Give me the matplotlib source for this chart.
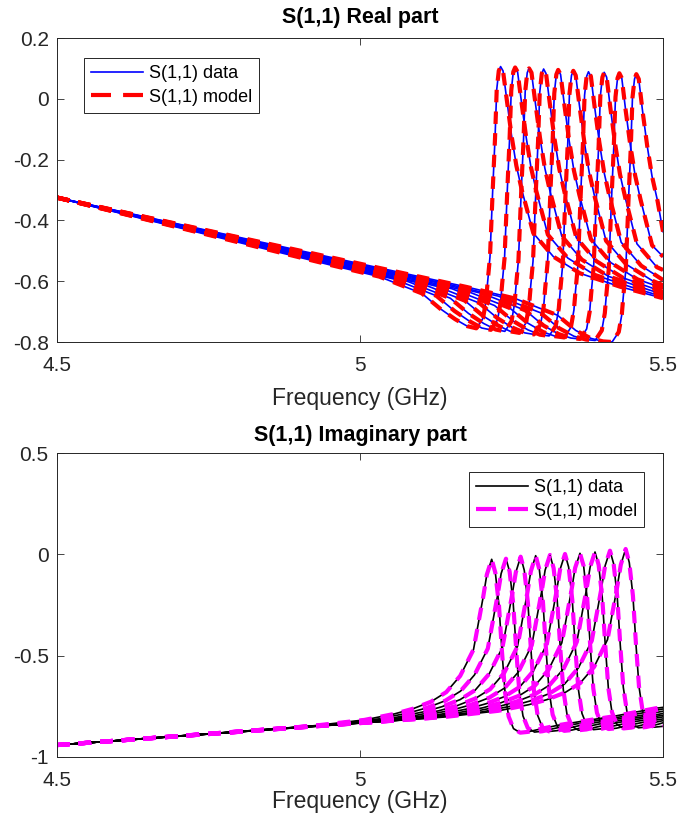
import numpy as np
import matplotlib
matplotlib.use("Agg")
import matplotlib.pyplot as plt
from matplotlib.lines import Line2D

plt.rcParams["font.family"] = ["Liberation Sans", "DejaVu Sans"]
plt.rcParams["axes.unicode_minus"] = False

F_START = 4.5
F_END = 5.5

# ── S(1,1) real part: 10 resonance traces ─────────────────────────────────────
RE_PEAK_FREQ = [5.232, 5.256, 5.279, 5.303, 5.327, 5.352, 5.377, 5.403, 5.428, 5.456]
RE_OFFSETS = [-0.28, -0.20, -0.13, -0.10, -0.075, -0.055, -0.040, -0.029, -0.024,
              -0.0215, -0.0175, -0.013, -0.0092, -0.0064, -0.003, 0.0, 0.004,
              0.010, 0.018, 0.026, 0.035, 0.054, 0.087, 0.131, 0.197, 0.27]
RE_START = [-0.325] * 10
RE_END = [-0.656, -0.651, -0.643, -0.635, -0.623, -0.613, -0.596, -0.563, -0.519, -0.437]
RE_VALUES = [
    [-0.547, -0.585, -0.640, -0.690, -0.725, -0.748, -0.755, -0.722, -0.665, -0.605, -0.520, -0.300, -0.130,
     0.030, 0.092, 0.106, 0.092, 0.000, -0.120, -0.220, -0.300, -0.442, -0.519, -0.574, -0.618, -0.655],
    [-0.555, -0.593, -0.648, -0.698, -0.732, -0.754, -0.760, -0.727, -0.670, -0.610, -0.525, -0.304, -0.134,
     0.027, 0.089, 0.103, 0.089, -0.004, -0.124, -0.224, -0.304, -0.447, -0.524, -0.579, -0.623, -0.660],
    [-0.563, -0.601, -0.656, -0.706, -0.739, -0.759, -0.765, -0.732, -0.675, -0.615, -0.530, -0.308, -0.137,
     0.024, 0.086, 0.100, 0.086, -0.008, -0.128, -0.228, -0.308, -0.452, -0.529, -0.584, -0.628, -0.665],
    [-0.571, -0.609, -0.664, -0.714, -0.746, -0.765, -0.770, -0.737, -0.680, -0.620, -0.535, -0.312, -0.141,
     0.021, 0.083, 0.098, 0.083, -0.012, -0.132, -0.232, -0.312, -0.457, -0.534, -0.589, -0.633, -0.670],
    [-0.579, -0.617, -0.672, -0.722, -0.753, -0.770, -0.775, -0.742, -0.685, -0.625, -0.540, -0.316, -0.144,
     0.018, 0.080, 0.095, 0.080, -0.016, -0.136, -0.236, -0.316, -0.462, -0.539, -0.594, -0.638, -0.675],
    [-0.587, -0.625, -0.680, -0.730, -0.760, -0.776, -0.780, -0.747, -0.690, -0.630, -0.545, -0.320, -0.148,
     0.015, 0.077, 0.092, 0.077, -0.020, -0.140, -0.240, -0.320, -0.467, -0.544, -0.599, -0.643, -0.680],
    [-0.595, -0.633, -0.688, -0.738, -0.767, -0.781, -0.785, -0.752, -0.695, -0.635, -0.550, -0.324, -0.151,
     0.012, 0.074, 0.089, 0.074, -0.024, -0.144, -0.244, -0.324, -0.472, -0.549, -0.604, -0.648, -0.685],
    [-0.603, -0.641, -0.696, -0.746, -0.774, -0.787, -0.790, -0.757, -0.700, -0.640, -0.555, -0.328, -0.155,
     0.009, 0.071, 0.087, 0.071, -0.028, -0.148, -0.248, -0.328, -0.477, -0.554, -0.609, -0.653, -0.690],
    [-0.611, -0.649, -0.704, -0.754, -0.781, -0.792, -0.795, -0.762, -0.705, -0.645, -0.560, -0.332, -0.158,
     0.006, 0.068, 0.084, 0.068, -0.032, -0.152, -0.252, -0.332, -0.482, -0.559, -0.614, -0.658, -0.695],
    [-0.619, -0.657, -0.712, -0.762, -0.788, -0.798, -0.800, -0.767, -0.710, -0.650, -0.565, -0.336, -0.162,
     0.003, 0.065, 0.081, 0.065, -0.036, -0.156, -0.256, -0.336, -0.487, -0.564, -0.619, -0.663, -0.700],
]

# ── S(1,1) imaginary part ─────────────────────────────────────────────────────
IM_PEAK_FREQ = [5.2173, 5.2409, 5.2651, 5.2899, 5.3135, 5.3383, 5.3630, 5.3878, 5.4125, 5.4384]
IM_OFFSETS = [-0.30, -0.21, -0.16, -0.13, -0.10, -0.075, -0.052, -0.03, -0.014, -0.008, 0.0,
              0.006, 0.012, 0.017, 0.022, 0.028, 0.036, 0.047, 0.06, 0.08, 0.11, 0.15, 0.20, 0.27]
IM_START = [-0.941] * 10
IM_END = [-0.755, -0.763, -0.774, -0.785, -0.794, -0.802, -0.812, -0.821, -0.831, -0.848]
IM_VALUES = [
    [-0.848, -0.817, -0.787, -0.762, -0.727, -0.680, -0.600, -0.470, -0.210, -0.100, -0.0245,
     -0.090, -0.250, -0.480, -0.680, -0.800, -0.860, -0.880, -0.876, -0.862, -0.843, -0.823, -0.800, -0.760],
    [-0.843, -0.812, -0.782, -0.757, -0.722, -0.675, -0.595, -0.465, -0.205, -0.095, -0.0215,
     -0.085, -0.245, -0.476, -0.677, -0.797, -0.857, -0.877, -0.873, -0.859, -0.840, -0.820, -0.797, -0.757],
    [-0.838, -0.807, -0.777, -0.752, -0.717, -0.670, -0.590, -0.459, -0.199, -0.089, -0.0116,
     -0.079, -0.240, -0.472, -0.674, -0.794, -0.854, -0.874, -0.870, -0.856, -0.837, -0.817, -0.794, -0.754],
    [-0.833, -0.802, -0.772, -0.747, -0.712, -0.665, -0.585, -0.454, -0.194, -0.084, -0.0066,
     -0.074, -0.235, -0.468, -0.671, -0.791, -0.851, -0.871, -0.867, -0.853, -0.834, -0.814, -0.791, -0.751],
    [-0.828, -0.797, -0.767, -0.742, -0.707, -0.660, -0.580, -0.448, -0.188, -0.078, -0.0032,
     -0.068, -0.230, -0.464, -0.668, -0.788, -0.848, -0.868, -0.864, -0.850, -0.831, -0.811, -0.788, -0.748],
    [-0.823, -0.792, -0.762, -0.737, -0.702, -0.655, -0.575, -0.443, -0.183, -0.073, 0.0017,
     -0.063, -0.225, -0.460, -0.665, -0.785, -0.845, -0.865, -0.861, -0.847, -0.828, -0.808, -0.785, -0.745],
    [-0.818, -0.787, -0.757, -0.732, -0.697, -0.650, -0.570, -0.437, -0.177, -0.067, 0.0050,
     -0.057, -0.220, -0.456, -0.662, -0.782, -0.842, -0.862, -0.858, -0.844, -0.825, -0.805, -0.782, -0.742],
    [-0.813, -0.782, -0.752, -0.727, -0.692, -0.645, -0.565, -0.432, -0.172, -0.062, 0.0115,
     -0.052, -0.215, -0.452, -0.659, -0.779, -0.839, -0.859, -0.855, -0.841, -0.822, -0.802, -0.779, -0.739],
    [-0.808, -0.777, -0.747, -0.722, -0.687, -0.640, -0.560, -0.426, -0.166, -0.056, 0.0180,
     -0.046, -0.210, -0.448, -0.656, -0.776, -0.836, -0.856, -0.852, -0.838, -0.819, -0.799, -0.776, -0.736],
    [-0.803, -0.772, -0.742, -0.717, -0.682, -0.635, -0.555, -0.421, -0.161, -0.051, 0.0264,
     -0.041, -0.205, -0.444, -0.653, -0.773, -0.833, -0.853, -0.849, -0.835, -0.816, -0.796, -0.773, -0.733],
]

RE_YTICKS = [-0.8, -0.6, -0.4, -0.2, 0, 0.2]
IM_YTICKS = [-1, -0.5, 0, 0.5]
X_TICKS = [4.5, 5, 5.5]
AX_COLOR = "0.15"


def _trace(peak, offsets, values, start, end):
    f = peak + np.asarray(offsets)
    v = np.asarray(values)
    keep = (f > F_START) & (f < F_END)
    x = np.concatenate([[F_START], f[keep], [F_END]])
    y = np.concatenate([[start], v[keep], [end]])
    return x, y


def _style(ax, yticks, ylim, title, labelpad, titlepad):
    ax.set_xlim(F_START, F_END)
    ax.set_ylim(*ylim)
    ax.set_xticks(X_TICKS)
    ax.set_xticklabels(["4.5", "5", "5.5"])
    ax.set_yticks(yticks)
    ax.set_yticklabels([f"{t:g}" for t in yticks])
    ax.tick_params(direction="in", top=True, right=True, length=5, width=0.6,
                   colors=AX_COLOR, labelsize=15)
    ax.tick_params(axis="x", pad=10)
    ax.tick_params(axis="y", pad=6)
    for sp in ax.spines.values():
        sp.set_color(AX_COLOR)
        sp.set_linewidth(0.7)
    ax.set_xlabel("Frequency (GHz)", fontsize=16.5, color=AX_COLOR, labelpad=labelpad)
    ax.set_title(title, fontsize=15.5, fontweight="bold", pad=titlepad)


fig = plt.figure(figsize=(6.94, 8.25), dpi=100)
ax1 = fig.add_axes([57 / 694, 1 - 342 / 825, 606 / 694, 304 / 825])
ax2 = fig.add_axes([57 / 694, 1 - 757 / 825, 606 / 694, 304 / 825])

dash = (3.0, 2.2)

re_traces = [_trace(p, RE_OFFSETS, v, s, e)
             for p, v, s, e in zip(RE_PEAK_FREQ, RE_VALUES, RE_START, RE_END)]
for x, y in re_traces:
    ax1.plot(x, y, color="blue", lw=1.2)
for x, y in re_traces:
    ax1.plot(x, y, color="red", lw=3.0, ls=(0, dash))

im_traces = [_trace(p, IM_OFFSETS, v, s, e)
             for p, v, s, e in zip(IM_PEAK_FREQ, IM_VALUES, IM_START, IM_END)]
for x, y in im_traces:
    ax2.plot(x, y, color="black", lw=1.2)
for x, y in im_traces:
    ax2.plot(x, y, color="magenta", lw=3.0, ls=(0, dash))

_style(ax1, RE_YTICKS, (-0.8, 0.2), "S(1,1) Real part", 9, 11)
_style(ax2, IM_YTICKS, (-1, 0.5), "S(1,1) Imaginary part", 0, 9)


def _legend(ax, c_data, c_model, loc, anchor):
    handles = [Line2D([], [], color=c_data, lw=1.2),
               Line2D([], [], color=c_model, lw=3.0, ls=(0, (4.8, 2.9)))]
    leg = ax.legend(handles, ["S(1,1) data", "S(1,1) model"], loc=loc,
                    bbox_to_anchor=anchor, borderaxespad=0, fontsize=13,
                    handlelength=2.9, handletextpad=0.3, labelspacing=0.38,
                    borderpad=0.38, fancybox=False, framealpha=1)
    leg.get_frame().set_edgecolor(AX_COLOR)
    leg.get_frame().set_linewidth(0.7)


_legend(ax1, "blue", "red", "upper left", (27 / 606, 284 / 304))
_legend(ax2, "black", "magenta", "upper right", (587 / 606, 285 / 304))

fig.savefig("out.png", dpi=100)
